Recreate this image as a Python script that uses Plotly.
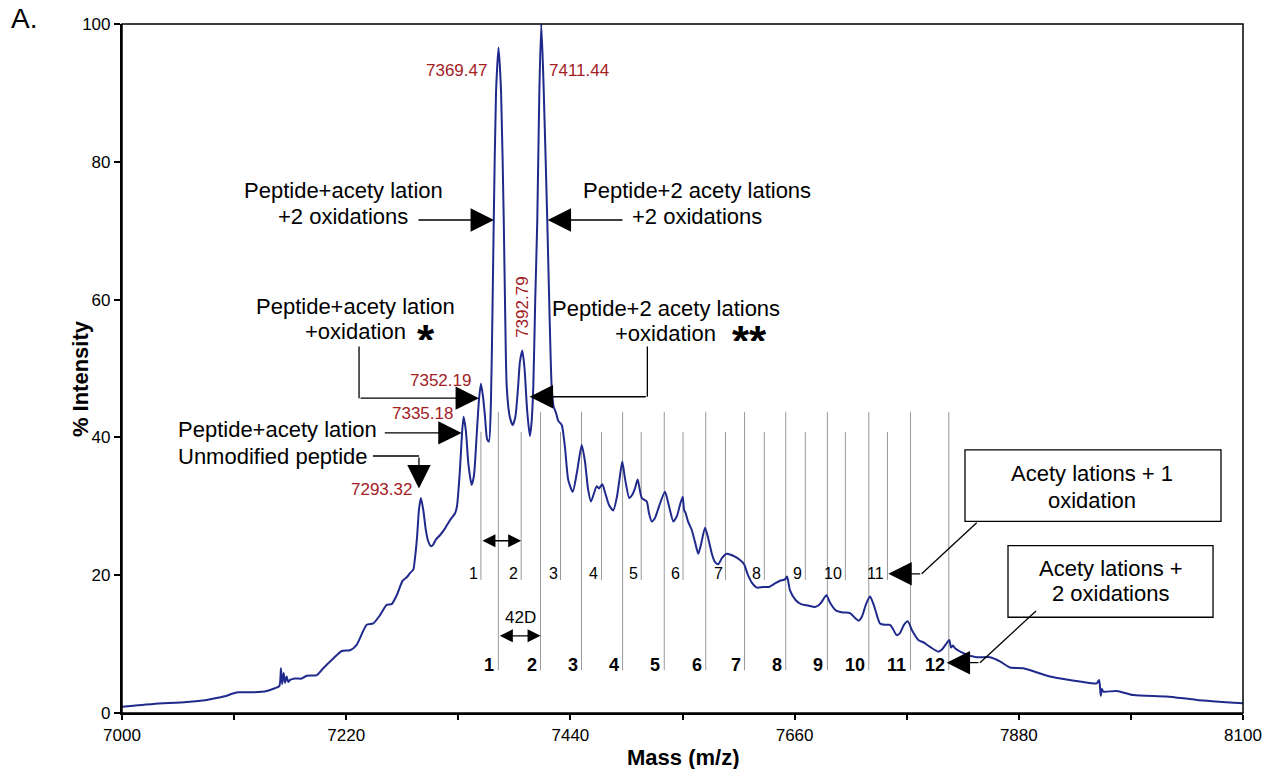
import plotly.graph_objects as go

# ---------------- data ----------------
mass = [7000, 7030.7, 7063.5, 7083.1, 7094, 7102.7, 7108, 7114.1, 7128.8, 7142.0, 7150, 7154.4,
        7156.0, 7157.2, 7158.6, 7160.0, 7161.6, 7163.2, 7165.0, 7169.8, 7176.3, 7181.2, 7191.1,
        7197.5, 7207.3, 7215.6, 7223.7, 7230.3, 7240.1, 7246.6, 7253.2, 7259.7, 7264.6, 7269.6,
        7275.4, 7279.4, 7282.6, 7285.8, 7287.5, 7289.5, 7291.4, 7293.3, 7295.6, 7298.2, 7300.3,
        7303.2, 7305.2, 7308.1, 7312.0, 7317.0, 7321.9, 7326.8, 7328.7, 7331.7, 7333.6, 7335.2,
        7337.4, 7340.0, 7343.1, 7345.4, 7348.3, 7350.3, 7352.2, 7354.2, 7356.2, 7358.2, 7360.1,
        7362.0, 7363.5, 7364.8, 7367.0, 7369.5, 7372.0, 7374.6, 7376.0, 7377.5, 7380.5, 7383.4,
        7386.0, 7388.5, 7390.5, 7392.8, 7395.0, 7397.5, 7400.2, 7401.8, 7403.6, 7405.5, 7407.5,
        7409.5, 7411.4, 7413.5, 7417.3, 7419.5, 7421.6, 7423.5, 7426.0, 7428.1, 7431.5, 7434.7,
        7437.9, 7442.3, 7446.5, 7451.1, 7454.3, 7457.3, 7460.2, 7465.8, 7468.1, 7471.3, 7474.0,
        7477.9, 7482.1, 7485.8, 7488.7, 7490.9, 7493.6, 7497.8, 7500.4, 7503.4, 7506.0, 7510.0,
        7514.9, 7517.1, 7519.8, 7523.0, 7527.0, 7532.8, 7536.8, 7541.0, 7544.6, 7547.5, 7550.2,
        7551.5, 7553.1, 7555.4, 7559.0, 7562.3, 7565.5, 7568.2, 7572.1, 7575.0, 7579.0, 7581.9,
        7585.1, 7588.8, 7593.4, 7596.6, 7601.5, 7606.4, 7610.4, 7614.3, 7618.2, 7623.1, 7629.0,
        7634.9, 7640.8, 7645.7, 7650.6, 7652.6, 7655.5, 7660.9, 7666.3, 7673.2, 7680.0, 7683.3,
        7686.9, 7691.2, 7694.8, 7700.4, 7707.5, 7714.4, 7719.3, 7722.8, 7726.1, 7730.1, 7734.0,
        7737.9, 7743.8, 7748.7, 7753.6, 7756.5, 7760.2, 7763.4, 7767.3, 7771.2, 7775.2, 7781.4,
        7787.0, 7792.9, 7801.0, 7804.6, 7808.6, 7811.8, 7813.5, 7815.4, 7817.4, 7825.5, 7838.7,
        7851.7, 7861.5, 7871.4, 7884.4, 7910.6, 7943.3, 7956.4, 7958.7, 7959.7, 7960.4, 7961.6,
        7962.9, 7976.1, 7992.4, 8025.1, 8054.6, 8100]

intensity = [0.9, 1.3, 1.6, 1.9, 2.2, 2.5, 2.8, 3.0, 3.0, 3.2, 3.6, 3.9,
             6.5, 4.2, 5.8, 4.4, 5.3, 4.5, 4.8, 5.0, 5.0, 5.4, 5.5,
             6.5, 7.9, 9.0, 9.1, 9.9, 12.8, 13.0, 14.2, 15.7, 15.8, 17.1,
             19.2, 19.7, 20.3, 20.8, 22.5, 25.5, 29.5, 31.2, 29.5, 26.5, 25.0,
             24.2, 24.4, 25.2, 25.8, 26.8, 28.0, 29.0, 30.0, 35.5, 40.5, 43.0,
             41.0, 36.0, 33.1, 34.5, 41.0, 45.5, 47.8, 46.0, 43.0, 39.8, 39.4,
             45.0, 58.0, 71.5, 90.0, 96.6, 90.0, 71.5, 58.0, 47.4, 43.0, 41.8,
             43.0, 47.0, 51.0, 52.6, 50.0, 44.0, 40.2, 42.0, 47.4, 60.0, 71.5,
             90.0, 100.0, 92.0, 71.5, 58.0, 47.4, 44.5, 43.5, 42.4, 41.8, 38.5,
             33.8, 32.1, 35.0, 38.9, 36.5, 32.5, 30.7, 32.9, 32.6, 33.2, 32.0,
             30.2, 29.4, 31.5, 34.5, 36.5, 34.0, 31.2, 31.6, 32.6, 33.9, 31.2,
             30.7, 29.0, 27.8, 28.3, 30.0, 32.1, 30.0, 27.8, 28.6, 30.2, 31.4,
             29.5, 29.0, 27.8, 26.6, 24.8, 23.1, 24.5, 26.9, 25.5, 23.0, 21.9,
             21.6, 22.5, 23.1, 23.0, 22.7, 22.2, 21.6, 20.0, 18.9, 18.2, 18.3,
             18.3, 18.8, 19.2, 19.4, 19.8, 17.8, 16.4, 15.8, 15.6, 15.4, 15.6,
             16.2, 17.1, 16.0, 14.9, 14.6, 14.5, 13.8, 13.4, 14.0, 15.8, 16.9,
             15.6, 13.0, 12.8, 12.8, 12.2, 11.3, 11.6, 12.8, 13.3, 12.0, 10.6,
             10.2, 9.6, 8.9, 9.2, 10.0, 10.6, 9.5, 9.8, 9.4, 8.7, 8.1,
             8.1, 7.5, 6.6, 6.5, 5.3, 4.5, 4.3, 4.8, 3.8, 2.5, 3.5,
             3.1, 3.2, 2.6, 2.4, 1.9, 1.4]

# acetylation ladders
ladder2_mass = [7369.3, 7410.7, 7450.9, 7491.2, 7532.1, 7572.8, 7610.9, 7651.3, 7692.2,
                7732.8, 7773.7, 7811.3]          # acetylations + 2 oxidations
ladder2_labels = ["1", "2", "3", "4", "5", "6", "7", "8", "9", "10", "11", "12"]
ladder1_mass = [7352.2, 7391.7, 7430.3, 7470.5, 7509.5, 7550.5, 7592.2, 7630.3, 7670.5,
                7709.8, 7751.1]                  # acetylations + 1 oxidation
ladder1_labels = ["1", "2", "3", "4", "5", "6", "7", "8", "9", "10", "11"]

# peak mass labels
peak_text = ["7293.32", "7335.18", "7352.19", "7369.47", "7392.79", "7411.44"]
peak_x = [7285.5, 7325.8, 7343.4, 7359.2, 7392.2, 7418.0]
peak_y = [32.4, 43.4, 48.3, 93.3, 58.9, 93.3]

x_tickvals = [7000, 7220, 7440, 7660, 7880, 8100]
y_tickvals = [0, 20, 40, 60, 80, 100]

# ---------------- styling ----------------
FONT = "Liberation Sans, Arial, Helvetica, sans-serif"
RED = "#A3211F"
BLUE = "#1F2A8C"
GRAY = "#9A9A9A"

fig = go.Figure()

# ladder lines (drawn under the spectrum)
lx, ly = [], []
for m in ladder2_mass:
    lx += [m, m, None]
    ly += [6.2, 43.7, None]
for m in ladder1_mass:
    lx += [m, m, None]
    ly += [19.3, 40.8, None]
fig.add_trace(go.Scatter(x=lx, y=ly, mode="lines", line=dict(color=GRAY, width=1),
                         hoverinfo="skip", showlegend=False))

fig.add_trace(go.Scatter(x=mass, y=intensity, mode="lines",
                         line=dict(color=BLUE, width=2, shape="spline", smoothing=0.6),
                         showlegend=False))

ann = []
shapes = []


def text(t, x, y, size=22, xanchor="center", bold=False, color="black", angle=0,
         xshift=0, yshift=0, xref="x", yref="y", **kw):
    if bold:
        t = "<b>" + t + "</b>"
    d = dict(text=t, x=x, y=y, xref=xref, yref=yref, showarrow=False,
             xanchor=xanchor, yanchor="middle", textangle=angle,
             xshift=xshift, yshift=yshift, borderpad=0,
             font=dict(family=FONT, size=size, color=color))
    d.update(kw)
    ann.append(d)


def arrow(x, y, ax, ay, size=3.6, both=False):
    ann.append(dict(text="", x=x, y=y, ax=ax, ay=ay, xref="x", yref="y",
                    axref="x", ayref="y", showarrow=True, arrowhead=2,
                    arrowsize=size, arrowwidth=1.3, arrowcolor="black", standoff=0,
                    startarrowhead=2, startarrowsize=size, startstandoff=0,
                    arrowside="end+start" if both else "end"))


def seg(x0, y0, x1, y1):
    shapes.append(dict(type="line", xref="x", yref="y", x0=x0, y0=y0, x1=x1, y1=y1,
                       line=dict(color="black", width=1.3)))


# main text labels (one annotation per line, to follow the reference line spacing)
text("Peptide+acety lation", 7217.8, 75.8)
text("+2 oxidations", 7216.4, 72.0)
text("Peptide+2 acety lations", 7564.7, 75.9)
text("+2 oxidations", 7564.7, 72.0)
text("Peptide+acety lation", 7229.4, 59.0)
text("+oxidation", 7229.1, 55.3)
text("Peptide+2 acety lations", 7533.6, 58.7)
text("+oxidation", 7533.6, 55.1)
text("*", 7298.3, 55.9, size=44, bold=True, height=24, valign="top")
text("**", 7616.2, 55.7, size=44, bold=True, height=24, valign="top")
text("Peptide+acety lation", 7053.6, 41.2, xanchor="left")
text("Unmodified peptide", 7053.6, 37.2, xanchor="left")

# arrows
arrow(7365.0, 71.55, 7289.5, 71.55)
arrow(7417.7, 71.55, 7492.6, 71.55)
seg(7232.6, 53.2, 7232.6, 45.7)
arrow(7350.3, 45.7, 7232.6, 45.7)
seg(7515.5, 53.2, 7515.5, 45.9)
arrow(7400.0, 45.9, 7515.5, 45.9)
arrow(7333.3, 40.65, 7256.4, 40.65)
seg(7246.3, 37.3, 7291.4, 37.3)
arrow(7291.4, 32.6, 7291.4, 37.3)

# peak labels
for t, x, y in zip(peak_text, peak_x, peak_y):
    if t == "7392.79":
        text(t, x, y, size=17, color=RED, angle=-90)
    elif t == "7411.44":
        text(t, x, y, size=17, color=RED, xanchor="left")
    else:
        text(t, x, y, size=17, color=RED, xanchor="right")

# ladder labels
for m, lab in zip(ladder1_mass, ladder1_labels):
    text(lab, m, 20.3, size=16, xanchor="right", xshift=-2)
for m, lab in zip(ladder2_mass, ladder2_labels):
    text(lab, m, 7.0, size=18, xanchor="right", bold=True, xshift=-3)

# spacing arrows
arrow(ladder1_mass[1], 25.0, ladder1_mass[0], 25.0, size=2.0, both=True)
arrow(ladder2_mass[1], 11.2, ladder2_mass[0], 11.2, size=2.0, both=True)
text("42D", 7390.6, 13.8, size=17)

# boxes
shapes.append(dict(type="rect", xref="x", yref="y", x0=7827.2, x1=8078.4, y0=27.8, y1=38.2,
                   line=dict(color="black", width=1.3), fillcolor="white"))
shapes.append(dict(type="rect", xref="x", yref="y", x0=7869.4, x1=8070.6, y0=13.9, y1=24.3,
                   line=dict(color="black", width=1.3), fillcolor="white"))
text("Acety lations + 1", 7951.5, 34.8)
text("oxidation", 7952.3, 30.9)
text("Acety lations +", 7970.3, 21.0)
text("2 oxidations", 7969.5, 17.4)
seg(7838.7, 27.6, 7784.7, 20.2)
arrow(7752.0, 20.2, 7784.7, 20.2)
seg(7896.9, 14.8, 7841.9, 7.3)
arrow(7809.2, 7.3, 7841.9, 7.3)

# panel letter and axis titles
text("A.", -0.0995, 1.0073, size=28, xanchor="left", xref="paper", yref="paper")
text("% Intensity", -0.0375, 0.486, size=22, bold=True, angle=-90,
     xref="paper", yref="paper")
text("Mass (m/z)", 0.5, -0.0646, size=22, bold=True, xref="paper", yref="paper")

# frame (top/right thin border)
shapes.append(dict(type="rect", xref="paper", yref="paper", x0=0, x1=1, y0=0, y1=1,
                   line=dict(color="black", width=1.5), layer="above"))

fig.update_layout(
    width=1265, height=769,
    margin=dict(l=122, r=22, t=24, b=56, autoexpand=False),
    paper_bgcolor="white", plot_bgcolor="white",
    font=dict(family=FONT, color="black"),
    annotations=ann, shapes=shapes,
    xaxis=dict(range=[7000, 8100], tickvals=x_tickvals,
               ticktext=[str(v) for v in x_tickvals], automargin=False,
               showgrid=False, zeroline=False, showline=True, linecolor="black",
               linewidth=2.2, ticks="outside", ticklen=5, tickwidth=1.5, tickcolor="black",
               minor=dict(dtick=110, tick0=7000, ticks="outside", ticklen=5, tickwidth=1.5,
                          tickcolor="black", showgrid=False),
               tickfont=dict(size=17, family=FONT)),
    yaxis=dict(range=[0, 100], tickvals=y_tickvals, showgrid=False, zeroline=False,
               automargin=False,
               showline=True, linecolor="black", linewidth=2.2, ticks="outside",
               ticklen=6, tickwidth=1.5, tickcolor="black",
               tickfont=dict(size=17, family=FONT)),
)

# remove the page's default 8px body margin so the figure fills the window exactly
fig.write_html("out.html",
               config={"displayModeBar": False},
               post_script="document.body.style.margin='0px';"
                           "document.documentElement.style.overflow='hidden';")
